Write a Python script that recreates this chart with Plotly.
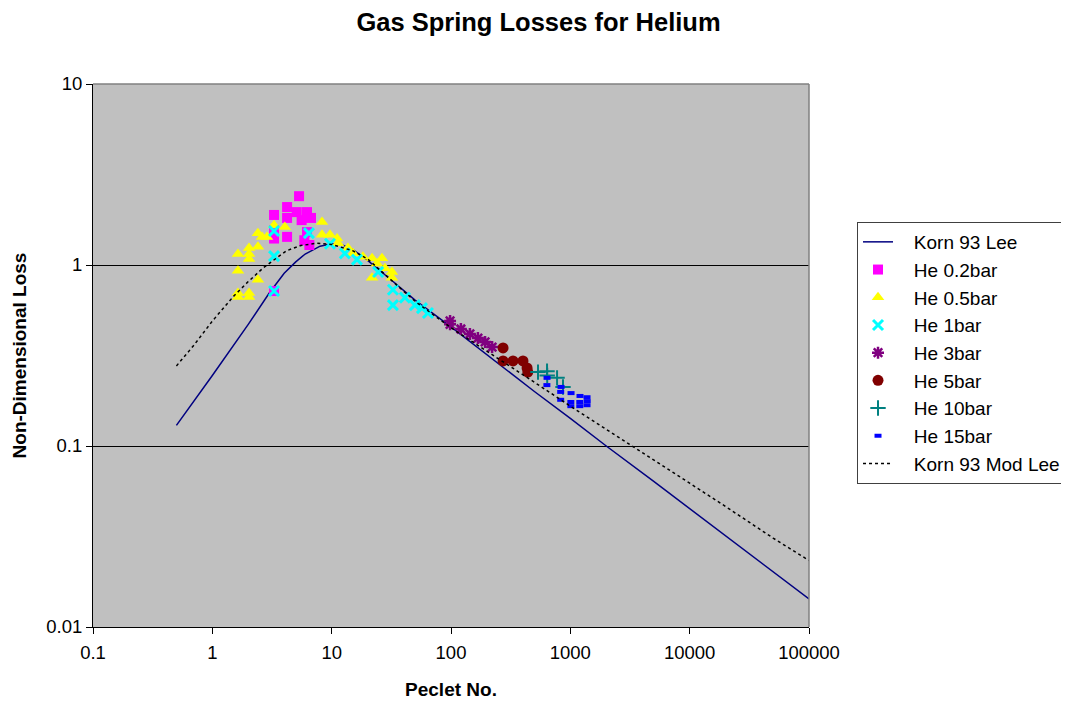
import plotly.graph_objects as go

# Korn 93 Lee (solid navy line)
lee_pe = [0.5, 1, 2, 3, 4, 5, 6, 8, 10, 12, 15, 20, 30, 50, 100, 200, 500, 1000, 2000, 5000, 10000, 20000, 50000, 100000]
lee_y = [0.13, 0.245, 0.47, 0.70, 0.90, 1.04, 1.15, 1.27, 1.31, 1.30, 1.22, 1.06, 0.85, 0.64, 0.455, 0.318, 0.20, 0.142, 0.10, 0.0637, 0.045, 0.0318, 0.0201, 0.0143]

# Korn 93 Mod Lee (dotted black line)
mod_pe = [0.5, 0.7, 1, 1.5, 2, 2.7, 3.5, 4.2, 5.5, 7.5, 10, 15, 20, 30, 50, 100, 200, 300, 500, 1000, 1400, 2000, 3300, 5000, 10000, 20000, 50000, 100000]
mod_y = [0.277, 0.36, 0.49, 0.67, 0.81, 0.97, 1.1, 1.2, 1.28, 1.32, 1.3, 1.2, 1.08, 0.85, 0.63, 0.45, 0.335, 0.28, 0.225, 0.166, 0.144, 0.124, 0.1, 0.084, 0.0623, 0.0463, 0.031, 0.0233]

he02_pe = [3.29, 3.29, 3.29, 4.23, 4.23, 4.23, 5.33, 5.1, 5.6, 6.21, 6.21, 6.71, 5.9, 6.5, 3.29]
he02_y = [1.89, 1.56, 1.40, 2.09, 1.82, 1.43, 2.40, 1.96, 1.77, 1.96, 1.52, 1.82, 1.37, 1.29, 0.718]

he05_pe = [1.64, 1.64, 1.64, 1.64, 2.03, 2.03, 2.03, 2.03, 2.03, 2.41, 2.41, 2.41, 2.61, 2.87, 3.29, 4.05,
           8.3, 8.3, 9.68, 11.3, 13.7, 15.1, 18.3, 21.8, 26.4, 21.8, 28.0, 32.0, 32.0, 11.1, 24.0]
he05_y = [1.15, 0.93, 0.70, 0.665, 1.24, 1.15, 1.08, 0.70, 0.665, 0.83, 1.50, 1.26, 1.43, 1.43, 1.66, 1.62,
          1.73, 1.47, 1.47, 1.32, 1.24, 1.16, 1.11, 1.09, 1.09, 0.85, 0.96, 0.915, 0.85, 1.40, 1.02]

he1_pe = [3.29, 3.29, 3.29, 6.45, 9.68, 12.9, 16.3, 24.5, 32.6, 32.6, 41.1, 49.8, 57.1, 64.1]
he1_y = [1.54, 1.12, 0.718, 1.50, 1.31, 1.16, 1.07, 0.915, 0.73, 0.60, 0.66, 0.60, 0.578, 0.543]

he3_pe = [98.2, 98.2, 121, 144, 168, 193, 221]
he3_y = [0.491, 0.47, 0.443, 0.416, 0.395, 0.376, 0.352]

he5_pe = [273, 273, 331, 401, 434, 440]
he5_y = [0.348, 0.295, 0.295, 0.295, 0.270, 0.256]

he10_pe = [536, 638, 640, 774, 868]
he10_y = [0.256, 0.259, 0.245, 0.238, 0.212]

he15_pe = [638, 636, 836, 830, 830, 1014, 1010, 1010, 1205, 1200, 1200, 1380, 1385, 1380]
he15_y = [0.238, 0.217, 0.212, 0.199, 0.18, 0.196, 0.175, 0.166, 0.189, 0.175, 0.166, 0.186, 0.177, 0.168]

x_ticks = [0.1, 1, 10, 100, 1000, 10000, 100000]
x_tick_text = ["0.1", "1", "10", "100", "1000", "10000", "100000"]
y_ticks = [0.01, 0.1, 1, 10]
y_tick_text = ["0.01", "0.1", "1", "10"]

PAD = "&nbsp;&nbsp;&nbsp;"  # visual gap between legend symbol and label, as in the reference

fig = go.Figure()
fig.add_trace(go.Scatter(x=lee_pe, y=lee_y, mode="lines", name=PAD + "Korn 93 Lee",
                         line=dict(color="#000080", width=1.5)))
fig.add_trace(go.Scatter(x=he02_pe, y=he02_y, mode="markers", name=PAD + "He 0.2bar",
                         marker=dict(symbol="square", color="#FF00FF", size=10)))
fig.add_trace(go.Scatter(x=he05_pe, y=he05_y, mode="markers", name=PAD + "He 0.5bar",
                         marker=dict(symbol="triangle-up", color="#FFFF00", size=11)))
fig.add_trace(go.Scatter(x=he1_pe, y=he1_y, mode="markers", name=PAD + "He 1bar",
                         marker=dict(symbol="x-thin", size=10, line=dict(color="#00FFFF", width=3))))
fig.add_trace(go.Scatter(x=he3_pe, y=he3_y, mode="markers", name=PAD + "He 3bar",
                         marker=dict(symbol="asterisk", size=10, line=dict(color="#800080", width=2.5))))
fig.add_trace(go.Scatter(x=he5_pe, y=he5_y, mode="markers", name=PAD + "He 5bar",
                         marker=dict(symbol="circle", color="#800000", size=11)))
fig.add_trace(go.Scatter(x=he10_pe, y=he10_y, mode="markers", name=PAD + "He 10bar",
                         marker=dict(symbol="cross-thin", size=11, line=dict(color="#008080", width=2))))
fig.add_trace(go.Scatter(x=he15_pe, y=he15_y, mode="markers", name=PAD + "He 15bar",
                         marker=dict(symbol="line-ew", size=5, line=dict(color="#0000FF", width=4))))
fig.add_trace(go.Scatter(x=mod_pe, y=mod_y, mode="lines", name=PAD + "Korn 93 Mod Lee",
                         line=dict(color="#000000", width=1.5, dash="dot")))

axis_font = dict(family="Arial, Liberation Sans, sans-serif", size=18.5, color="#000000")

# page body has an 8px margin, so the figure is shifted by 8px; compensate
fig.update_layout(
    width=1061, height=693,
    margin=dict(l=85, r=260, t=76, b=74, autoexpand=False),
    paper_bgcolor="#FFFFFF",
    plot_bgcolor="#C0C0C0",
    font=dict(family="Arial, Liberation Sans, sans-serif", size=19, color="#000000"),
    title=dict(text="<b>Gas Spring Losses for Helium</b>", x=0.5, xanchor="center",
               xref="container", yref="container",
               y=0.979, yanchor="middle", font=dict(size=25.5)),
    showlegend=True,
    legend=dict(xref="container", yref="container", x=0.8002, xanchor="left",
                y=0.6912, yanchor="top",
                bgcolor="#FFFFFF", bordercolor="#404040", borderwidth=1,
                font=dict(size=19), tracegroupgap=0),
    xaxis=dict(type="log", range=[-1, 5], tickvals=x_ticks, ticktext=x_tick_text,
               showgrid=False, zeroline=False, showline=True, linecolor="#000000", linewidth=1,
               ticks="outside", ticklen=6, tickcolor="#000000", tickfont=axis_font,
               ticklabelstandoff=3, automargin=False,
               title=dict(text="<b>Peclet No.</b>", font=dict(size=19), standoff=20)),
    yaxis=dict(type="log", range=[-2, 1], tickvals=y_ticks, ticktext=y_tick_text,
               showgrid=True, gridcolor="#000000", gridwidth=1, zeroline=False,
               showline=True, linecolor="#000000", linewidth=1,
               ticks="outside", ticklen=6, tickcolor="#000000", tickfont=axis_font,
               automargin=False,
               title=dict(text="<b>Non-Dimensional Loss</b>", font=dict(size=19), standoff=14)),
    shapes=[
        dict(type="line", xref="paper", yref="paper", x0=0, x1=1, y0=1, y1=1,
             line=dict(color="#808080", width=1.5)),
        dict(type="line", xref="paper", yref="paper", x0=1, x1=1, y0=0, y1=1,
             line=dict(color="#808080", width=1.5)),
    ],
)

fig.write_html("out.html")
